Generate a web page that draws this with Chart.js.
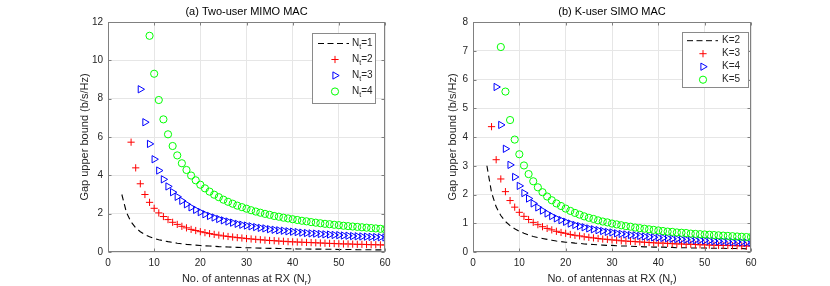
<!DOCTYPE html>
<html><head><meta charset="utf-8">
<script src="https://cdn.jsdelivr.net/npm/chart.js@4.4.0/dist/chart.umd.min.js"></script>
<style>
html,body{margin:0;padding:0;background:#fff;}
#wrap{position:relative;width:830px;height:286px;overflow:hidden;}
canvas{position:absolute;top:0;}
</style></head>
<body><div id="wrap">
<canvas id="c1" width="415" height="286" style="left:0"></canvas>
<canvas id="c2" width="415" height="286" style="left:415px"></canvas>
</div>
<script>
// ---------- data ----------
// x axis: number of receive antennas N_r ; each series starts at firstRx and goes up by 1 to 60
const xTicks = [0, 10, 20, 30, 40, 50, 60];
const yTicksA = [0, 2, 4, 6, 8, 10, 12];
const yTicksB = [0, 1, 2, 3, 4, 5, 6, 7, 8];

// (a) Two-user MIMO MAC
const firstRxA = [3, 5, 7, 9];
const labelsA = ['N_t=1', 'N_t=2', 'N_t=3', 'N_t=4'];
const gapNt1 = [3.00,2.06,1.57,1.26,1.06,0.91,0.80,0.71,0.64,0.59,0.54,0.50,0.46,0.43,0.40,0.38,0.36,0.34,0.32,0.31,0.30,0.28,0.27,0.26,0.25,0.24,0.23,0.22,0.22,0.21,0.20,0.20,0.19,0.19,0.18,0.18,0.17,0.17,0.16,0.16,0.16,0.15,0.15,0.15,0.14,0.14,0.14,0.13,0.13,0.13,0.13,0.12,0.12,0.12,0.12,0.11,0.11,0.11];
const gapNt2 = [5.73,4.39,3.56,3.00,2.59,2.28,2.04,1.85,1.69,1.55,1.44,1.34,1.26,1.18,1.12,1.06,1.01,0.96,0.92,0.88,0.84,0.81,0.78,0.75,0.73,0.70,0.68,0.66,0.64,0.62,0.60,0.59,0.57,0.56,0.54,0.53,0.52,0.51,0.50,0.49,0.48,0.47,0.46,0.45,0.44,0.43,0.42,0.42,0.41,0.40,0.40,0.39,0.38,0.38,0.37,0.37];
const gapNt3 = [8.49,6.77,5.64,4.84,4.25,3.79,3.42,3.12,2.88,2.67,2.49,2.33,2.20,2.08,1.97,1.88,1.80,1.72,1.65,1.59,1.53,1.47,1.42,1.38,1.34,1.30,1.26,1.23,1.19,1.16,1.13,1.11,1.08,1.06,1.04,1.01,0.99,0.97,0.96,0.94,0.92,0.91,0.89,0.88,0.86,0.85,0.83,0.82,0.81,0.80,0.79,0.78,0.77,0.76];
const gapNt4 = [11.28,9.30,7.93,6.92,6.14,5.53,5.04,4.63,4.28,3.99,3.74,3.51,3.32,3.15,2.99,2.86,2.73,2.62,2.52,2.42,2.34,2.26,2.18,2.11,2.05,1.99,1.94,1.88,1.84,1.79,1.75,1.71,1.67,1.63,1.60,1.56,1.53,1.50,1.47,1.45,1.42,1.40,1.37,1.35,1.33,1.31,1.29,1.27,1.25,1.23,1.21,1.19];

// (b) K-user SIMO MAC
const firstRxB = [3, 4, 5, 6];
const labelsB = ['K=2', 'K=3', 'K=4', 'K=5'];
const gapK2 = [3.00,2.07,1.57,1.27,1.06,0.92,0.81,0.72,0.65,0.59,0.54,0.50,0.47,0.44,0.41,0.38,0.36,0.34,0.33,0.31,0.30,0.28,0.27,0.26,0.25,0.24,0.23,0.23,0.22,0.21,0.21,0.20,0.19,0.19,0.18,0.18,0.17,0.17,0.17,0.16,0.16,0.15,0.15,0.15,0.14,0.14,0.14,0.14,0.13,0.13,0.13,0.13,0.12,0.12,0.12,0.12,0.11,0.11];
const gapK3 = [4.36,3.21,2.54,2.10,1.79,1.56,1.38,1.24,1.13,1.03,0.95,0.88,0.82,0.77,0.72,0.68,0.65,0.61,0.58,0.56,0.53,0.51,0.49,0.47,0.45,0.44,0.42,0.41,0.39,0.38,0.37,0.36,0.35,0.34,0.33,0.32,0.31,0.31,0.30,0.29,0.28,0.28,0.27,0.27,0.26,0.25,0.25,0.24,0.24,0.23,0.23,0.23,0.22,0.22,0.21,0.21,0.21];
const gapK4 = [5.74,4.42,3.59,3.03,2.61,2.30,2.05,1.86,1.69,1.55,1.44,1.34,1.25,1.17,1.11,1.05,0.99,0.94,0.90,0.86,0.82,0.79,0.76,0.73,0.70,0.68,0.65,0.63,0.61,0.59,0.58,0.56,0.54,0.53,0.51,0.50,0.49,0.48,0.46,0.45,0.44,0.43,0.42,0.41,0.41,0.40,0.39,0.38,0.37,0.37,0.36,0.35,0.35,0.34,0.33,0.33];
const gapK5 = [7.13,5.58,4.59,3.91,3.40,3.01,2.71,2.46,2.25,2.08,1.93,1.80,1.69,1.60,1.51,1.43,1.36,1.30,1.24,1.19,1.15,1.10,1.06,1.03,0.99,0.96,0.93,0.90,0.88,0.85,0.83,0.81,0.79,0.77,0.75,0.73,0.71,0.70,0.68,0.67,0.66,0.64,0.63,0.62,0.61,0.60,0.59,0.58,0.57,0.56,0.55,0.54,0.53,0.52,0.52];

// ---------- rendering ----------
const FONT = '"Liberation Sans", Arial, Helvetica, sans-serif';
const TXT = '#262626';

function toPoints(start, vals) { return vals.map((v, i) => ({ x: start + i, y: v })); }
function parseLabel(s) {
  const i = s.indexOf('_');
  if (i < 0) return [[s, false]];
  return [[s.slice(0, i), false], [s.slice(i + 1, i + 2), true], [s.slice(i + 2), false]];
}
function drawRich(ctx, parts, x, y, size, align) {
  const main = size + 'px ' + FONT, sub = Math.round(size * 0.72) + 'px ' + FONT;
  let w = 0;
  parts.forEach(p => { ctx.font = p[1] ? sub : main; w += ctx.measureText(p[0]).width; });
  let cx = align === 'center' ? x - w / 2 : x;
  ctx.textAlign = 'left'; ctx.textBaseline = 'middle';
  parts.forEach(p => {
    ctx.font = p[1] ? sub : main;
    ctx.fillText(p[0], cx, y + (p[1] ? size * 0.35 : 0));
    cx += ctx.measureText(p[0]).width;
  });
}

const styles = [
  { kind: 'line', color: '#000000' },
  { kind: 'pt', color: '#ff0000', pointStyle: 'cross', radius: 3.6, rotation: 0 },
  { kind: 'pt', color: '#0000ff', pointStyle: 'triangle', radius: 4.2, rotation: 90 },
  { kind: 'pt', color: '#00ff00', pointStyle: 'circle', radius: 3.6, rotation: 0 }
];

const decor = {
  id: 'decor',
  afterDraw(chart, args, o) {
    const ctx = chart.ctx, a = chart.chartArea, xs = chart.scales.x, ys = chart.scales.y;
    ctx.save();
    const L = Math.round(a.left) + 0.5, R = Math.round(a.right) - 0.5, T = Math.round(a.top) + 0.5, B = Math.round(a.bottom) - 0.5;
    ctx.strokeStyle = '#808080'; ctx.lineWidth = 1; ctx.setLineDash([]);
    ctx.strokeRect(L, T, R - L, B - T);
    ctx.beginPath();
    xs.ticks.forEach(t => { const p = Math.round(xs.getPixelForValue(t.value)) + 0.5; ctx.moveTo(p, B); ctx.lineTo(p, B - 3); ctx.moveTo(p, T); ctx.lineTo(p, T + 3); });
    ys.ticks.forEach(t => { const p = Math.round(ys.getPixelForValue(t.value)) + 0.5; ctx.moveTo(L, p); ctx.lineTo(L + 3, p); ctx.moveTo(R, p); ctx.lineTo(R - 3, p); });
    ctx.stroke();
    ctx.fillStyle = '#000';
    drawRich(ctx, [[o.title, false]], (a.left + a.right) / 2, o.titleY, 11, 'center');
    ctx.fillStyle = TXT;
    drawRich(ctx, [['No. of antennas at RX (N', false], ['r', true], [')', false]], (a.left + a.right) / 2, o.xTitleY, 11, 'center');
    ctx.save();
    ctx.translate(a.left - o.yTitleOff, (a.top + a.bottom) / 2);
    ctx.rotate(-Math.PI / 2);
    drawRich(ctx, [['Gap upper bound (b/s/Hz)', false]], 0, 0, 11, 'center');
    ctx.restore();
    const lg = o.legend;
    const bx = a.right - lg.right - lg.w, by = a.top + lg.top;
    ctx.fillStyle = '#fff'; ctx.fillRect(bx, by, lg.w, lg.h);
    ctx.strokeStyle = '#8a8a8a'; ctx.lineWidth = 1;
    ctx.strokeRect(Math.round(bx) + 0.5, Math.round(by) + 0.5, lg.w, lg.h);
    chart.data.datasets.forEach((ds, i) => {
      const st = styles[i];
      const cy = by + lg.first + i * lg.step;
      if (st.kind === 'line') {
        ctx.strokeStyle = st.color; ctx.lineWidth = 1; ctx.setLineDash([6, 3.5]);
        ctx.beginPath(); ctx.moveTo(bx + lg.lx1, cy); ctx.lineTo(bx + lg.lx2, cy); ctx.stroke();
        ctx.setLineDash([]);
      } else {
        ctx.strokeStyle = st.color; ctx.fillStyle = 'rgba(0,0,0,0)'; ctx.lineWidth = 1;
        Chart.helpers.drawPoint(ctx, { pointStyle: st.pointStyle, radius: st.radius, rotation: st.rotation, borderWidth: 1 }, bx + lg.mx, cy);
      }
      ctx.fillStyle = TXT;
      drawRich(ctx, parseLabel(ds.label), bx + lg.tx, cy, 10, 'left');
    });
    ctx.restore();
  }
};

function makeChart(id, series, starts, labels, yMax, yStep, geo, deco) {
  const datasets = series.map((vals, i) => {
    const st = styles[i];
    const base = { label: labels[i], data: toPoints(starts[i], vals), order: 3 - i };
    if (st.kind === 'line') {
      return Object.assign(base, { showLine: true, borderColor: st.color, borderWidth: 1.1, borderDash: [6, 4], pointRadius: 0, tension: 0, fill: false });
    }
    return Object.assign(base, { showLine: false, borderColor: st.color, backgroundColor: 'rgba(0,0,0,0)', pointStyle: st.pointStyle, pointRadius: st.radius, pointRotation: st.rotation, pointBorderWidth: 1, pointHoverRadius: st.radius });
  });
  return new Chart(document.getElementById(id), {
    type: 'scatter',
    data: { datasets },
    plugins: [decor],
    options: {
      responsive: false, animation: false, devicePixelRatio: 1,
      events: [],
      layout: { padding: { top: geo.top, right: geo.right, bottom: 0, left: 0 } },
      plugins: { legend: { display: false }, tooltip: { enabled: false }, decor: deco },
      scales: {
        x: {
          type: 'linear', min: 0, max: 60,
          afterBuildTicks: s => { s.ticks = xTicks.map(v => ({ value: v })); },
          afterFit: s => { s.height = geo.xh; },
          grid: { color: '#e6e6e6', drawTicks: false },
          border: { display: false },
          ticks: { padding: 5, color: TXT, font: { family: FONT, size: 10 }, maxRotation: 0 }
        },
        y: {
          type: 'linear', min: 0, max: yMax,
          afterBuildTicks: s => { s.ticks = (yMax === 12 ? yTicksA : yTicksB).map(v => ({ value: v })); },
          afterFit: s => { s.width = geo.yw; },
          grid: { color: '#e6e6e6', drawTicks: false },
          border: { display: false },
          ticks: { padding: 5, color: TXT, font: { family: FONT, size: 10 } }
        }
      }
    }
  });
}

makeChart('c1', [gapNt1, gapNt2, gapNt3, gapNt4], firstRxA, labelsA, 12, 2,
  { top: 22, right: 30, xh: 34, yw: 108 },
  { title: '(a) Two-user MIMO MAC', titleY: 12, xTitleY: 279, yTitleOff: 23,
    legend: { right: 10, top: 11, w: 63, h: 70, first: 10.5, step: 16, lx1: 6, lx2: 37, mx: 23, tx: 40 } });

makeChart('c2', [gapK2, gapK3, gapK4, gapK5], firstRxB, labelsB, 8, 1,
  { top: 22, right: 79, xh: 34, yw: 58 },
  { title: '(b) K-user SIMO MAC', titleY: 12, xTitleY: 279, yTitleOff: 20,
    legend: { right: 3, top: 10, w: 66, h: 55, first: 8.7, step: 13, lx1: 5, lx2: 36, mx: 21, tx: 40 } });
</script>
</body></html>
